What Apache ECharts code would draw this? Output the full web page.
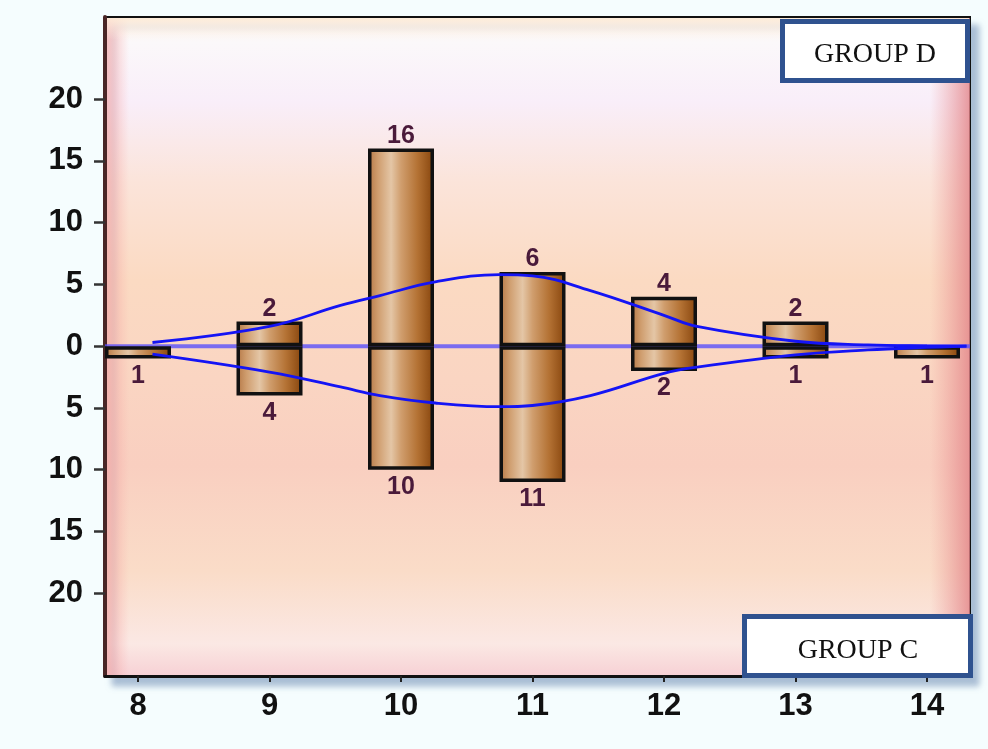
<!DOCTYPE html>
<html>
<head>
<meta charset="utf-8">
<script src="https://cdn.jsdelivr.net/npm/echarts@6/dist/echarts.min.js"></script>
<style>
html,body{margin:0;padding:0;background:#f5fdfe;}
#chart{width:988px;height:749px;}
</style>
</head>
<body>
<div id="chart"></div>
<script>
const categories = [8, 9, 10, 11, 12, 13, 14];
const groupD = [0, 2, 16, 6, 4, 2, 0];
const groupC = [1, 4, 10, 11, 2, 1, 1];
const yTicks = [-20, -15, -10, -5, 0, 5, 10, 15, 20];
const curveDx = [8.11, 9, 9.54, 9.84, 10.26, 10.75, 11, 11.44, 12, 12.25, 13, 13.55, 14, 14.3];
const curveDy = [0.3, 1.6, 3.3, 4.1, 5.2, 5.8, 5.7, 4.5, 2.5, 1.6, 0.4, 0.1, 0.02, 0];
const curveCx = [8.11, 9, 9.54, 9.84, 10.26, 10.75, 11, 11.44, 12, 12.25, 13, 13.55, 14, 14.3];
const curveCy = [-0.65, -2.1, -3.3, -4.0, -4.6, -4.9, -4.8, -4.0, -2.2, -1.7, -0.7, -0.3, -0.1, 0];
const xRange = [7.749, 14.327];
const yRange = [-26.7, 26.65];

const chart = echarts.init(document.getElementById('chart'));

const barColor = {
  type: 'linear', x: 0, y: 0, x2: 1, y2: 0,
  colorStops: [
    {offset: 0, color: '#b47644'},
    {offset: 0.15, color: '#cf9d6e'},
    {offset: 0.35, color: '#e4c6a6'},
    {offset: 0.5, color: '#d09e6e'},
    {offset: 0.75, color: '#b47234'},
    {offset: 1, color: '#86440c'}
  ]
};
const labelStyle = {
  show: true, fontFamily: 'Liberation Sans, Arial, sans-serif', fontWeight: 'bold',
  fontSize: 25, color: '#4a1a3a'
};

chart.setOption({
  animation: false,
  backgroundColor: '#f5fdfe',
  grid: {
    left: 105, top: 17, right: 18, bottom: 73,
    show: true,
    borderColor: '#111', borderWidth: 2,
    shadowColor: 'rgba(110,140,180,0.55)', shadowBlur: 6, shadowOffsetX: 8, shadowOffsetY: 9,
    backgroundColor: {
      type: 'linear', x: 0, y: 0, x2: 0, y2: 1,
      colorStops: [
        {offset: 0, color: '#fdf3ea'},
        {offset: 0.04, color: '#fbf8fa'},
        {offset: 0.13, color: '#f9eef9'},
        {offset: 0.25, color: '#fbe4da'},
        {offset: 0.4, color: '#fbdac2'},
        {offset: 0.55, color: '#fad5c2'},
        {offset: 0.68, color: '#f9cfc0'},
        {offset: 0.84, color: '#fadcc8'},
        {offset: 0.95, color: '#fbe8e4'},
        {offset: 1, color: '#f7d0d4'}
      ]
    }
  },
  xAxis: {
    type: 'value', min: xRange[0], max: xRange[1],
    splitLine: {show: false},
    axisLine: {show: true, onZero: false, lineStyle: {color: '#111', width: 3}},
    axisTick: {show: true, customValues: categories, length: 6, lineStyle: {color: '#222', width: 2}},
    axisLabel: {
      customValues: categories, margin: 15,
      fontFamily: 'Liberation Sans, Arial, sans-serif', fontWeight: 'bold', fontSize: 31, color: '#111'
    }
  },
  yAxis: {
    type: 'value', min: yRange[0], max: yRange[1],
    splitLine: {show: false},
    axisLine: {show: true, onZero: false, lineStyle: {color: '#4a2626', width: 4}},
    axisTick: {show: true, customValues: yTicks, length: 11, lineStyle: {color: '#333', width: 2.5}},
    axisLabel: {
      customValues: yTicks, margin: 22,
      formatter: v => String(Math.abs(v)),
      fontFamily: 'Liberation Sans, Arial, sans-serif', fontWeight: 'bold', fontSize: 31, color: '#111'
    }
  },
  graphic: [
    {type: 'rect', z: 1, silent: true, shape: {x: 930, y: 18, width: 40, height: 657},
      style: {fill: {type: 'linear', x: 0, y: 0, x2: 1, y2: 0,
        colorStops: [{offset: 0, color: 'rgba(236,150,150,0)'}, {offset: 1, color: 'rgba(226,130,135,0.8)'}]}}},
    {type: 'rect', z: 1, silent: true, shape: {x: 107, y: 18, width: 22, height: 657},
      style: {fill: {type: 'linear', x: 0, y: 0, x2: 1, y2: 0,
        colorStops: [{offset: 0, color: 'rgba(245,165,165,0.65)'}, {offset: 1, color: 'rgba(245,165,165,0)'}]}}},
    {type: 'rect', z: 1, silent: true, shape: {x: 107, y: 18, width: 862, height: 22},
      style: {fill: {type: 'linear', x: 0, y: 0, x2: 0, y2: 1,
        colorStops: [{offset: 0, color: 'rgba(253,235,215,0.9)'}, {offset: 1, color: 'rgba(253,240,230,0)'}]}}},
    {type: 'rect', z: 20, shape: {x: 782.5, y: 21.5, width: 185, height: 59},
      style: {fill: '#ffffff', stroke: '#2f528f', lineWidth: 5}},
    {type: 'text', z: 21, x: 875, y: 55,
      style: {text: 'GROUP D', fontFamily: 'Liberation Serif, Times New Roman, serif', fontSize: 28,
        fill: '#111', textAlign: 'center', textVerticalAlign: 'middle'}},
    {type: 'rect', z: 20, shape: {x: 744.5, y: 616.5, width: 226, height: 59},
      style: {fill: '#ffffff', stroke: '#2f528f', lineWidth: 5}},
    {type: 'text', z: 21, x: 858, y: 651,
      style: {text: 'GROUP C', fontFamily: 'Liberation Serif, Times New Roman, serif', fontSize: 28,
        fill: '#111', textAlign: 'center', textVerticalAlign: 'middle'}}
  ],
  series: [
    {
      name: 'zero', type: 'line', z: 1, silent: true, symbol: 'none',
      data: [[xRange[0], 0], [xRange[1], 0]],
      lineStyle: {color: 'rgba(90,80,250,0.8)', width: 4}
    },
    {
      name: 'GROUP D', type: 'bar', stack: 'g', barWidth: 66, z: 2,
      data: categories.map((c, i) => groupD[i] ? [c, groupD[i]] : [c, '-']),
      itemStyle: {color: barColor, borderColor: '#111', borderWidth: 3.5},
      label: Object.assign({}, labelStyle, {position: 'top', distance: 0,
        formatter: p => String(Math.abs(p.value[1]))})
    },
    {
      name: 'GROUP C', type: 'bar', stack: 'g', barWidth: 66, z: 2,
      data: categories.map((c, i) => [c, -groupC[i]]),
      itemStyle: {color: barColor, borderColor: '#111', borderWidth: 3.5},
      label: Object.assign({}, labelStyle, {position: 'bottom', distance: 5,
        formatter: p => String(Math.abs(p.value[1]))})
    },
    {
      name: 'curveD', type: 'line', z: 3, silent: true, symbol: 'none', smooth: 0.4,
      data: curveDx.map((x, i) => [x, curveDy[i]]),
      lineStyle: {color: '#1414f5', width: 2.8}
    },
    {
      name: 'curveC', type: 'line', z: 3, silent: true, symbol: 'none', smooth: 0.4,
      data: curveCx.map((x, i) => [x, curveCy[i]]),
      lineStyle: {color: '#1414f5', width: 2.8}
    }
  ]
});
</script>
</body>
</html>
